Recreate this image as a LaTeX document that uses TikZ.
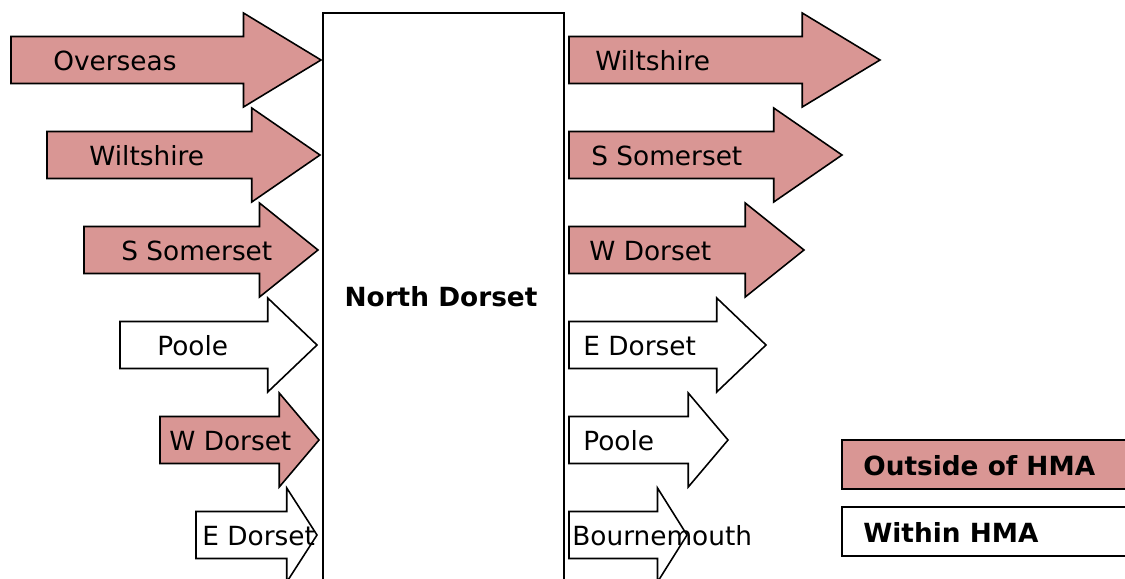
\documentclass[tikz,border=0pt]{standalone}
\usepackage{fontspec}
\setmainfont{DejaVu Sans}
\definecolor{hmapink}{RGB}{217,150,148}
\usetikzlibrary{calc}

\begin{document}
\begin{tikzpicture}[x=0.02cm,y=-0.02cm,
      flow/.style={draw=black,line width=0.9pt},
      lbl/.style={anchor=base west,inner sep=0pt,font=\fontsize{15}{18}\selectfont},
      key/.style={rectangle,draw=black,line width=0.9pt,minimum width=6cm,
                  minimum height=0.98cm,anchor=west,inner sep=0pt}]

      \useasboundingbox (0,0) rectangle (1125,578);
      \clip (0,0) rectangle (1125,578);

      % North Dorset
      \node[rectangle,draw=black,line width=1pt,minimum width=4.82cm,minimum height=12cm,
            anchor=north west,inner sep=0pt] (ndbox) at (322,12) {};
      \node[font=\fontsize{15}{18}\selectfont\bfseries] (ndlabel) at (441,297) {North Dorset};

      % Inflows
      \foreach \nm/\xl/\xt/\yy/\col/\tx/\txt in {
          ov/11/321/60/hmapink/53/Overseas,
          wi/47/320/155/hmapink/89/Wiltshire,
          ss/84/318/250/hmapink/121/S Somerset,
          po/120/317/345/white/157/Poole,
          wd/160/319/440/hmapink/169/W Dorset,
          ed/196/317/535/white/202/E Dorset}{
        \pgfmathsetmacro{\hx}{\xt-0.25*(\xt-\xl)}
        \draw[flow,fill=\col] (\xl,\yy-23.5) -- (\hx,\yy-23.5) -- (\hx,\yy-47) -- (\xt,\yy)
          -- (\hx,\yy+47) -- (\hx,\yy+23.5) -- (\xl,\yy+23.5) -- cycle;
        \node[lbl] (in-\nm) at (\tx,\yy+10) {\txt};
      }

      % Outflows
      \foreach \nm/\xl/\xt/\yy/\col/\tx/\txt in {
          wi/569/880/60/hmapink/595/Wiltshire,
          ss/569/842/155/hmapink/591/S Somerset,
          wd/569/804/250/hmapink/589/W Dorset,
          ed/569/766/345/white/583/E Dorset,
          po/569/728/440/white/583/Poole,
          bo/569/687/535/white/572/Bournemouth}{
        \pgfmathsetmacro{\hx}{\xt-0.25*(\xt-\xl)}
        \draw[flow,fill=\col] (\xl,\yy-23.5) -- (\hx,\yy-23.5) -- (\hx,\yy-47) -- (\xt,\yy)
          -- (\hx,\yy+47) -- (\hx,\yy+23.5) -- (\xl,\yy+23.5) -- cycle;
        \node[lbl] (out-\nm) at (\tx,\yy+10) {\txt};
      }

      % Legend
      \node[key,fill=hmapink] (keyout) at (841,464.5) {};
      \node[lbl,font=\fontsize{15}{18}\selectfont\bfseries] (keyoutlbl) at (863,475) {Outside of HMA};
      \node[key,fill=white] (keyin) at (841,531.5) {};
      \node[lbl,font=\fontsize{15}{18}\selectfont\bfseries] (keyinlbl) at (863,542) {Within HMA};
    \end{tikzpicture}
\end{document}
